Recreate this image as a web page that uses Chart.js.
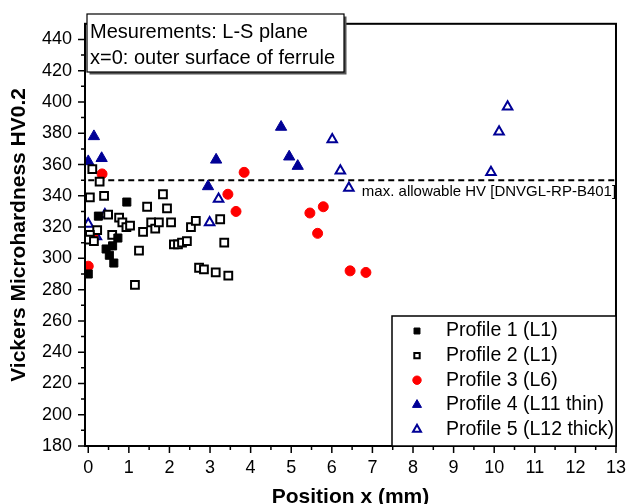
<!DOCTYPE html>
<html>
<head>
<meta charset="utf-8">
<script src="https://cdn.jsdelivr.net/npm/chart.js@4/dist/chart.umd.min.js"></script>
<style>
html,body{margin:0;padding:0;background:#fff;overflow:hidden}
</style>
</head>
<body>
<canvas id="hvChart" width="637" height="504"></canvas>
<script>
// values
const p1X = [0, 0.25, 0.44, 0.52, 0.60, 0.63, 0.73, 0.95]
const p1Y = [290, 327, 306, 302, 308, 297, 313, 336]

const p2X = [0.10, 0.04, 0.28, 0.39, 0.22, 0.04, 0, 0.14, 0.49, 0.59, 0.76, 0.84, 0.94, 1.03, 1.25, 1.15, 1.35, 1.45, 1.55, 1.65, 1.74, 1.84, 1.94, 2.04, 2.11, 2.21, 2.31, 2.43, 2.53, 2.65, 2.73, 2.85, 3.14, 3.25, 3.35, 3.45]
const p2Y = [357, 339, 349, 340, 318, 315, 312, 311, 328, 315, 326, 323, 320, 321, 305, 283, 317, 333, 323, 319, 323, 341, 332, 323, 309, 309, 310, 311, 320, 324, 294, 293, 291, 325, 310, 289]

const p3X = [0, 0.11, 0.34, 3.44, 3.64, 3.84, 5.46, 5.65, 5.79, 6.45, 6.84]
const p3Y = [295, 314, 354, 341, 330, 355, 329, 316, 333, 292, 291]

const p4X = [0, 0.14, 0.33, 2.95, 3.15, 4.75, 4.95, 5.16]
const p4Y = [362, 378, 364, 346, 363, 384, 365, 359]

const p5X = [0, 0.20, 0.41, 2.99, 3.21, 6.01, 6.21, 6.42, 9.92, 10.12, 10.33]
const p5Y = [322, 314, 328, 323, 338, 376, 356, 345, 355, 381, 397]

const seriesNames = ["Profile 1 (L1)", "Profile 2 (L1)", "Profile 3 (L6)", "Profile 4 (L11 thin)", "Profile 5 (L12 thick)"]

const limitHV = 350
const limitLabel = "max. allowable HV [DNVGL-RP-B401]"

const xTicks = [0,1,2,3,4,5,6,7,8,9,10,11,12,13]
const yTicks = [180,200,220,240,260,280,300,320,340,360,380,400,420,440]

const noteLines = ["Mesurements: L-S plane", "x=0: outer surface of ferrule"]

const FONT = "'Liberation Sans', Arial, Helvetica, sans-serif"
const NAVY = "#000096"

function pts(xs, ys){
return xs.map((x,i)=>({x:x, y:ys[i]}))
}

const styles = [
{pointStyle:"rect", pointRadius:5.7, backgroundColor:"#000", borderColor:"#000", borderWidth:1},
{pointStyle:"rect", pointRadius:5.5, backgroundColor:"#fff", borderColor:"#000", borderWidth:2},
{pointStyle:"circle", pointRadius:5, backgroundColor:"#ff0000", borderColor:"#ff0000", borderWidth:1},
{pointStyle:"triangle", pointRadius:6.5, backgroundColor:NAVY, borderColor:NAVY, borderWidth:1},
{pointStyle:"triangle", pointRadius:5.5, backgroundColor:"#fff", borderColor:NAVY, borderWidth:2}
]

const allData = [pts(p1X,p1Y), pts(p2X,p2Y), pts(p3X,p3Y), pts(p4X,p4Y), pts(p5X,p5Y)]

const datasets = allData.map((d,i)=>Object.assign({
label: seriesNames[i],
data: d,
showLine: false,
pointHoverRadius: styles[i].pointRadius
}, styles[i]))

datasets.push({
label: "limit",
data: [{x:0, y:limitHV}, {x:13, y:limitHV}],
showLine: true,
borderColor: "#000",
borderWidth: 2,
borderDash: [6,4],
pointRadius: 0,
fill: false
})

function drawMarker(ctx, st, x, y, r){
ctx.save()
ctx.fillStyle = st.backgroundColor
ctx.strokeStyle = st.borderColor
ctx.lineWidth = st.borderWidth
ctx.beginPath()
if(st.pointStyle==="rect"){
const s = Math.SQRT1_2*r
ctx.rect(x-s, y-s, 2*s, 2*s)
}else if(st.pointStyle==="circle"){
ctx.arc(x, y, r, 0, Math.PI*2)
}else{
for(let k=0;k<3;k++){
const a = k*2*Math.PI/3
const px = x+Math.sin(a)*r, py = y-Math.cos(a)*r
if(k===0) ctx.moveTo(px,py); else ctx.lineTo(px,py)
}
ctx.closePath()
}
ctx.fill()
ctx.stroke()
ctx.restore()
}

const decor = {
id: "decor",
afterDatasetsDraw(chart){
const ctx = chart.ctx
const a = chart.chartArea
const xs = chart.scales.x, ys = chart.scales.y
ctx.save()
ctx.strokeStyle = "#000"
ctx.lineWidth = 2
ctx.strokeRect(a.left, a.top, a.right-a.left, a.bottom-a.top)
ctx.lineWidth = 1.5
ctx.beginPath()
for(let v=0; v<=13; v+=0.5){
const px = xs.getPixelForValue(v)
const len = Number.isInteger(v) ? 7 : 4
ctx.moveTo(px, a.bottom)
ctx.lineTo(px, a.bottom+len)
}
for(let v=180; v<=440; v+=10){
const py = ys.getPixelForValue(v)
const len = v%20===0 ? 7 : 4
ctx.moveTo(a.left, py)
ctx.lineTo(a.left-len, py)
}
ctx.stroke()

// limit label
ctx.fillStyle = "#000"
ctx.font = "15px " + FONT
ctx.textAlign = "left"
ctx.textBaseline = "middle"
ctx.fillText(limitLabel, xs.getPixelForValue(6.74), ys.getPixelForValue(limitHV)+12)
ctx.restore()
},
afterDraw(chart){
const ctx = chart.ctx
const a = chart.chartArea
ctx.save()
// note box, top left
const bx = a.left+2, by = 14, bw = 257, bh = 58
ctx.fillStyle = "#555"
ctx.fillRect(bx+2.5, by+2.5, bw, bh)
ctx.fillStyle = "#fff"
ctx.fillRect(bx, by, bw, bh)
ctx.strokeStyle = "#000"
ctx.lineWidth = 1.2
ctx.strokeRect(bx, by, bw, bh)
ctx.fillStyle = "#000"
ctx.font = "20px " + FONT
ctx.textAlign = "left"
ctx.textBaseline = "middle"
ctx.fillText(noteLines[0], bx+3, by+18)
ctx.fillText(noteLines[1], bx+3, by+44)

// legend, bottom right
const lx = 392, ly = 316
const lw = a.right-lx, lh = a.bottom-ly
ctx.fillStyle = "#fff"
ctx.fillRect(lx, ly, lw, lh)
ctx.lineWidth = 1.5
ctx.strokeRect(lx, ly, lw, lh)
const legR = [4.2, 3.8, 4.2, 5.2, 4.6]
seriesNames.forEach((name,i)=>{
const ry = ly + 15 + i*24.6
drawMarker(ctx, styles[i], 417, ry, legR[i])
ctx.fillStyle = "#000"
ctx.font = "19.5px " + FONT
ctx.fillText(name, 446, ry)
})
ctx.restore()
}
}

new Chart(document.getElementById("hvChart"), {
type: "scatter",
data: {datasets: datasets},
options: {
responsive: false,
animation: false,
layout: {padding: {top: 12, right: 10.5, left: 0, bottom: 0}},
plugins: {legend: {display: false}, tooltip: {enabled: false}},
scales: {
x: {
type: "linear",
min: -0.08,
max: 13,
afterBuildTicks: s=>{ s.ticks = xTicks.map(v=>({value:v})) },
afterFit: s=>{ s.height = 58 },
grid: {display: false, drawTicks: false},
border: {display: false},
ticks: {color: "#000", font: {family: FONT, size: 18}, padding: 11, maxRotation: 0, autoSkip: false},
title: {display: true, text: "Position x (mm)", color: "#000", font: {family: FONT, size: 21, weight: "bold", lineHeight: 0.6}, padding: 0}
},
y: {
type: "linear",
min: 180,
max: 450,
afterBuildTicks: s=>{ s.ticks = yTicks.map(v=>({value:v})) },
afterFit: s=>{ s.width = 85 },
grid: {display: false, drawTicks: false},
border: {display: false},
ticks: {color: "#000", font: {family: FONT, size: 18}, padding: 13, autoSkip: false},
title: {display: true, text: "Vickers Microhardness HV0.2", color: "#000", font: {family: FONT, size: 21, weight: "bold", lineHeight: 1}, padding: {top: 9, bottom: 0}}
}
}
},
plugins: [decor]
})
</script>
</body>
</html>
